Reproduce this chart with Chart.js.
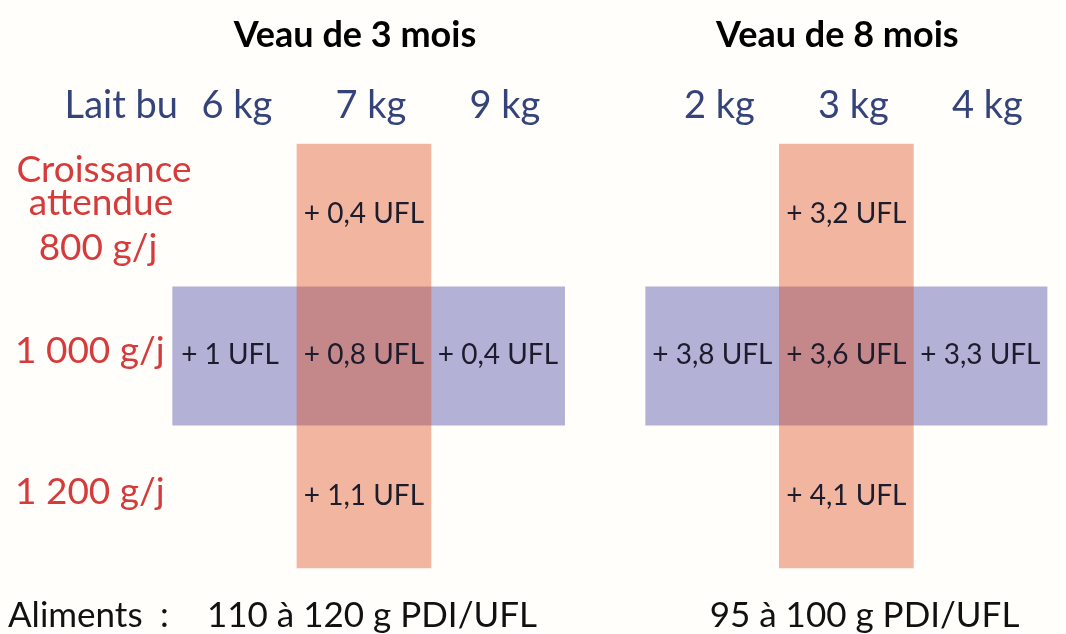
<!DOCTYPE html>
<html lang="fr">
<head>
<meta charset="utf-8">
<title>Veau de 3 mois / Veau de 8 mois</title>
<script src="https://cdn.jsdelivr.net/npm/chart.js@4/dist/chart.umd.min.js"></script>
<style>
  html, body { margin: 0; padding: 0; background: #fffefb; }
  canvas { display: block; }
</style>
</head>
<body>
<canvas id="crossChart" width="1066" height="634"></canvas>
<script>
// --- data ---
const panelTitles = ['Veau de 3 mois', 'Veau de 8 mois'];
const milkLabels = [['6 kg', '7 kg', '9 kg'], ['2 kg', '3 kg', '4 kg']];
const columnPos = [[0, 1, 2], [3.6, 4.6, 5.6]];
const growthLabels = [['Croissance', 'attendue', '800 g/j'], ['1 000 g/j'], ['1 200 g/j']];
const rowPos = [0, 1, 2];
// UFL supplement for each row (800, 1000, 1200 g/j), null = empty cell
const ufl3 = [[null, 0.4, null], [1, 0.8, 0.4], [null, 1.1, null]];
const ufl8 = [[null, 3.2, null], [3.8, 3.6, 3.3], [null, 4.1, null]];
const feedLabels = ['110 à 120 g PDI/UFL', '95 à 100 g PDI/UFL'];

// extent of the coloured bands, in column / row units
const colBandX = [1, 4.6];          // 7 kg and 3 kg columns
const colBandRows = [-0.5, 2.5];
const rowBandY = [1, 1];            // 1 000 g/j row
const rowBandStart = [-0.43, 3.1];
const rowBandEnd = [2.5, 6.1];

const navy = '#34437a';
const red = '#d63b3b';

function fmt(v) {
    return '+ ' + String(v).replace('.', ',') + ' UFL';
}

// writes all the labels, placed with the chart's own scales
const labelPlugin = {
    id: 'crossLabels',
    afterDatasetsDraw(chart) {
        const ctx = chart.ctx;
        const xs = chart.scales.x;
        const ys = chart.scales.y;
        ctx.save();

        // titles
        ctx.fillStyle = '#000';
        ctx.font = 'bold 36px Lato';
        ctx.textAlign = 'center';
        ctx.textBaseline = 'alphabetic';
        panelTitles.forEach((t, i) => {
            ctx.fillText(t, xs.getPixelForValue(colBandX[i]) - 9, 47);
        });

        // milk header
        ctx.fillStyle = navy;
        ctx.font = '38px Lato';
        ctx.textAlign = 'right';
        ctx.fillText('Lait bu', xs.getPixelForValue(columnPos[0][0]) - 52, 118);
        ctx.textAlign = 'center';
        milkLabels.forEach((labels, p) => {
            labels.forEach((l, c) => {
                ctx.fillText(l, xs.getPixelForValue(columnPos[p][c]) + 7, 118);
            });
        });

        // growth rows (red)
        ctx.fillStyle = red;
        ctx.font = '37px Lato';
        const top = growthLabels[0];
        const y0 = ys.getPixelForValue(rowPos[0]);
        ctx.textAlign = 'center';
        ctx.fillText(top[0], 104, y0 - 33);
        ctx.fillText(top[1], 101, y0 + 0);
        ctx.fillText(top[2], 98, y0 + 45);
        ctx.textAlign = 'left';
        for (let r = 1; r < growthLabels.length; r++) {
            ctx.fillText(growthLabels[r][0], 15, ys.getPixelForValue(rowPos[r]) + 7);
        }

        // UFL values in the cells
        ctx.fillStyle = '#1c1c2c';
        ctx.font = '28px Lato';
        ctx.textAlign = 'center';
        [ufl3, ufl8].forEach((table, p) => {
            table.forEach((row, r) => {
                row.forEach((v, c) => {
                    if (v === null) return;
                    ctx.fillText(fmt(v), xs.getPixelForValue(columnPos[p][c]), ys.getPixelForValue(rowPos[r]) + 8);
                });
            });
        });

        // feed line at the bottom
        ctx.fillStyle = '#111';
        ctx.font = '35px Lato';
        ctx.textAlign = 'left';
        ctx.fillText('Aliments\u2002:', 8, 627);
        ctx.textAlign = 'right';
        feedLabels.forEach((t, i) => {
            ctx.fillText(t, xs.getPixelForValue(rowBandEnd[i]) - 28, 627);
        });

        ctx.restore();
    }
};

const ctx = document.getElementById('crossChart').getContext('2d');
new Chart(ctx, {
    type: 'bar',
    data: {
        datasets: [
            {
                // horizontal band: 1 000 g/j
                indexAxis: 'y',
                order: 2,
                data: rowBandY.map((y, i) => ({ y: y, x: [rowBandStart[i], rowBandEnd[i]] })),
                backgroundColor: '#b4b1d6',
                borderWidth: 0,
                grouped: false,
                categoryPercentage: 1,
                barPercentage: 0.984
            },
            {
                // vertical band: 7 kg / 3 kg, translucent so the crossing darkens
                indexAxis: 'x',
                order: 1,
                data: colBandX.map(x => ({ x: x, y: colBandRows })),
                backgroundColor: 'rgba(222, 73, 22, 0.395)',
                borderWidth: 0,
                grouped: false,
                categoryPercentage: 1,
                barPercentage: 1
            }
        ]
    },
    options: {
        responsive: false,
        animation: false,
        events: [],
        layout: { padding: 0 },
        plugins: {
            legend: { display: false },
            tooltip: { enabled: false }
        },
        scales: {
            x: {
                type: 'linear',
                min: -1.716,
                max: 6.239,
                offset: false,
                display: false,
                afterBuildTicks: s => {
                    s.ticks = columnPos.flat().map(v => ({ value: v }));
                }
            },
            y: {
                type: 'linear',
                min: -1.519,
                max: 2.967,
                reverse: true,
                offset: false,
                display: false,
                afterBuildTicks: s => {
                    s.ticks = rowPos.map(v => ({ value: v }));
                }
            }
        }
    },
    plugins: [labelPlugin]
});
</script>
</body>
</html>
